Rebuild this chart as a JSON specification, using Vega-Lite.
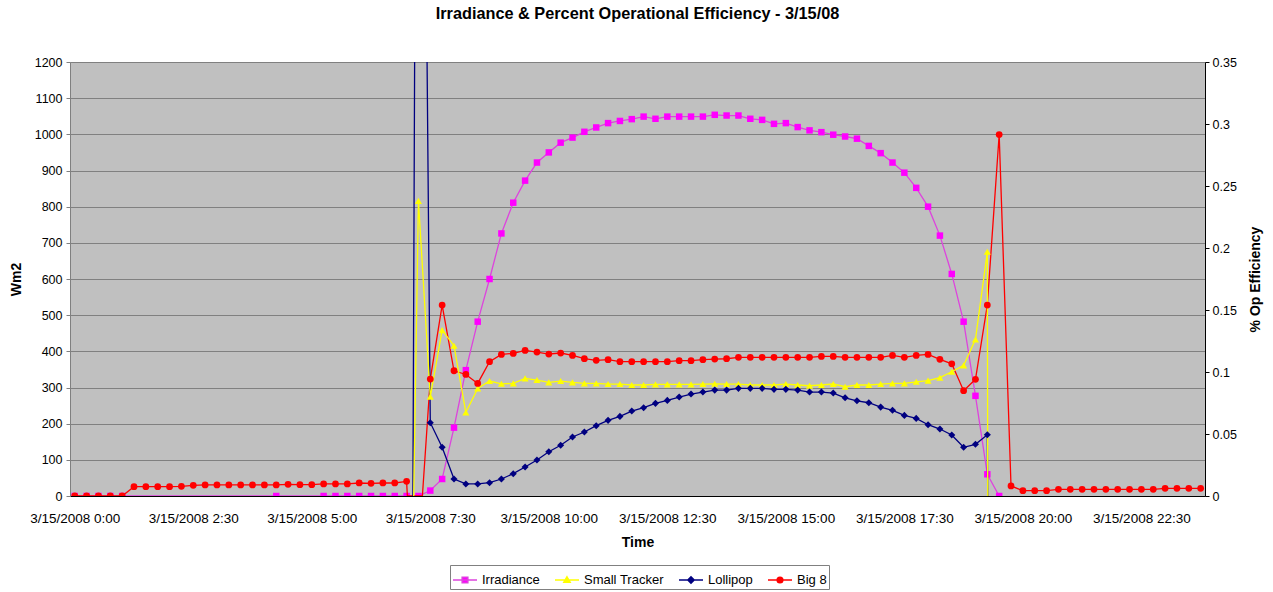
{
"$schema": "https://vega.github.io/schema/vega-lite/v6.json",
"width": 1135, "height": 434,
"autosize": "none",
"padding": {"left": 70, "top": 62, "right": 68, "bottom": 96},
"background": "white",
"title": {"text": "Irradiance & Percent Operational Efficiency - 3/15/08", "font": "Liberation Sans", "fontSize": 16.3, "fontWeight": "bold", "color": "black", "offset": 34, "anchor": "middle"},
"data": {"values": [
{"time":"2008-03-15T00:00","Irradiance":0,"Big 8":0},
{"time":"2008-03-15T00:15","Irradiance":0,"Big 8":0},
{"time":"2008-03-15T00:30","Irradiance":0,"Big 8":0},
{"time":"2008-03-15T00:45","Irradiance":0,"Big 8":0},
{"time":"2008-03-15T01:00","Irradiance":0,"Big 8":0},
{"time":"2008-03-15T01:15","Big 8":0.0075},
{"time":"2008-03-15T01:30","Big 8":0.0075},
{"time":"2008-03-15T01:45","Big 8":0.0075},
{"time":"2008-03-15T02:00","Big 8":0.0075},
{"time":"2008-03-15T02:15","Big 8":0.0078},
{"time":"2008-03-15T02:30","Big 8":0.0086},
{"time":"2008-03-15T02:45","Big 8":0.0089},
{"time":"2008-03-15T03:00","Big 8":0.0089},
{"time":"2008-03-15T03:15","Big 8":0.0089},
{"time":"2008-03-15T03:30","Big 8":0.0089},
{"time":"2008-03-15T03:45","Big 8":0.0089},
{"time":"2008-03-15T04:00","Big 8":0.0089},
{"time":"2008-03-15T04:15","Irradiance":0,"Big 8":0.0089},
{"time":"2008-03-15T04:30","Big 8":0.0094},
{"time":"2008-03-15T04:45","Big 8":0.0091},
{"time":"2008-03-15T05:00","Big 8":0.0091},
{"time":"2008-03-15T05:15","Irradiance":0,"Big 8":0.0097},
{"time":"2008-03-15T05:30","Irradiance":0,"Big 8":0.0097},
{"time":"2008-03-15T05:45","Irradiance":0,"Big 8":0.0097},
{"time":"2008-03-15T06:00","Irradiance":0,"Big 8":0.0105},
{"time":"2008-03-15T06:15","Irradiance":0,"Big 8":0.0102},
{"time":"2008-03-15T06:30","Irradiance":0,"Big 8":0.0105},
{"time":"2008-03-15T06:45","Irradiance":0,"Big 8":0.0105},
{"time":"2008-03-15T07:00","Irradiance":0,"Big 8":0.0118},
{"time":"2008-03-15T07:01","Big 8":0},
{"time":"2008-03-15T07:08","Lollipop":0},
{"time":"2008-03-15T07:09","Small Tracker":0},
{"time":"2008-03-15T07:15","Irradiance":0,"Small Tracker":0.238,"Lollipop":1.13},
{"time":"2008-03-15T07:20","Big 8":0},
{"time":"2008-03-15T07:30","Irradiance":15,"Small Tracker":0.0801,"Lollipop":0.0591,"Big 8":0.0943},
{"time":"2008-03-15T07:45","Irradiance":47,"Small Tracker":0.1338,"Lollipop":0.0393,"Big 8":0.154},
{"time":"2008-03-15T08:00","Irradiance":189,"Small Tracker":0.1212,"Lollipop":0.0137,"Big 8":0.101},
{"time":"2008-03-15T08:15","Irradiance":348,"Small Tracker":0.0674,"Lollipop":0.0097,"Big 8":0.098},
{"time":"2008-03-15T08:30","Irradiance":482,"Small Tracker":0.0868,"Lollipop":0.0097,"Big 8":0.0908},
{"time":"2008-03-15T08:45","Irradiance":600,"Small Tracker":0.0927,"Lollipop":0.0107,"Big 8":0.1083},
{"time":"2008-03-15T09:00","Irradiance":726,"Small Tracker":0.0905,"Lollipop":0.0137,"Big 8":0.1142},
{"time":"2008-03-15T09:15","Irradiance":811,"Small Tracker":0.0908,"Lollipop":0.018,"Big 8":0.115},
{"time":"2008-03-15T09:30","Irradiance":872,"Small Tracker":0.0949,"Lollipop":0.0234,"Big 8":0.1174},
{"time":"2008-03-15T09:45","Irradiance":922,"Small Tracker":0.0935,"Lollipop":0.029,"Big 8":0.1161},
{"time":"2008-03-15T10:00","Irradiance":950,"Small Tracker":0.0916,"Lollipop":0.0357,"Big 8":0.1145},
{"time":"2008-03-15T10:15","Irradiance":977,"Small Tracker":0.0927,"Lollipop":0.0409,"Big 8":0.1153},
{"time":"2008-03-15T10:30","Irradiance":991,"Small Tracker":0.0916,"Lollipop":0.0476,"Big 8":0.1134},
{"time":"2008-03-15T10:45","Irradiance":1007,"Small Tracker":0.0908,"Lollipop":0.0516,"Big 8":0.1107},
{"time":"2008-03-15T11:00","Irradiance":1019,"Small Tracker":0.0908,"Lollipop":0.0567,"Big 8":0.1094},
{"time":"2008-03-15T11:15","Irradiance":1031,"Small Tracker":0.0903,"Lollipop":0.061,"Big 8":0.1099},
{"time":"2008-03-15T11:30","Irradiance":1037,"Small Tracker":0.0903,"Lollipop":0.0642,"Big 8":0.1083},
{"time":"2008-03-15T11:45","Irradiance":1042,"Small Tracker":0.0895,"Lollipop":0.0685,"Big 8":0.1083},
{"time":"2008-03-15T12:00","Irradiance":1049,"Small Tracker":0.0895,"Lollipop":0.0712,"Big 8":0.1083},
{"time":"2008-03-15T12:15","Irradiance":1043,"Small Tracker":0.09,"Lollipop":0.0747,"Big 8":0.1083},
{"time":"2008-03-15T12:30","Irradiance":1049,"Small Tracker":0.09,"Lollipop":0.0771,"Big 8":0.1083},
{"time":"2008-03-15T12:45","Irradiance":1049,"Small Tracker":0.09,"Lollipop":0.0798,"Big 8":0.1091},
{"time":"2008-03-15T13:00","Irradiance":1049,"Small Tracker":0.09,"Lollipop":0.0822,"Big 8":0.1091},
{"time":"2008-03-15T13:15","Irradiance":1049,"Small Tracker":0.0903,"Lollipop":0.0838,"Big 8":0.1099},
{"time":"2008-03-15T13:30","Irradiance":1054,"Small Tracker":0.0905,"Lollipop":0.0854,"Big 8":0.1104},
{"time":"2008-03-15T13:45","Irradiance":1052,"Small Tracker":0.0903,"Lollipop":0.0854,"Big 8":0.1107},
{"time":"2008-03-15T14:00","Irradiance":1052,"Small Tracker":0.0903,"Lollipop":0.0868,"Big 8":0.1118},
{"time":"2008-03-15T14:15","Irradiance":1043,"Small Tracker":0.0895,"Lollipop":0.0868,"Big 8":0.1118},
{"time":"2008-03-15T14:30","Irradiance":1040,"Small Tracker":0.0895,"Lollipop":0.0868,"Big 8":0.1118},
{"time":"2008-03-15T14:45","Irradiance":1029,"Small Tracker":0.0895,"Lollipop":0.086,"Big 8":0.1118},
{"time":"2008-03-15T15:00","Irradiance":1031,"Small Tracker":0.0903,"Lollipop":0.086,"Big 8":0.1118},
{"time":"2008-03-15T15:15","Irradiance":1020,"Small Tracker":0.0895,"Lollipop":0.0854,"Big 8":0.1118},
{"time":"2008-03-15T15:30","Irradiance":1011,"Small Tracker":0.0889,"Lollipop":0.0838,"Big 8":0.1118},
{"time":"2008-03-15T15:45","Irradiance":1006,"Small Tracker":0.0895,"Lollipop":0.0838,"Big 8":0.1126},
{"time":"2008-03-15T16:00","Irradiance":999,"Small Tracker":0.0903,"Lollipop":0.083,"Big 8":0.1126},
{"time":"2008-03-15T16:15","Irradiance":994,"Small Tracker":0.0881,"Lollipop":0.0792,"Big 8":0.1118},
{"time":"2008-03-15T16:30","Irradiance":988,"Small Tracker":0.0895,"Lollipop":0.0768,"Big 8":0.1118},
{"time":"2008-03-15T16:45","Irradiance":968,"Small Tracker":0.0895,"Lollipop":0.0752,"Big 8":0.1118},
{"time":"2008-03-15T17:00","Irradiance":948,"Small Tracker":0.0903,"Lollipop":0.0717,"Big 8":0.1118},
{"time":"2008-03-15T17:15","Irradiance":922,"Small Tracker":0.0908,"Lollipop":0.0691,"Big 8":0.1134},
{"time":"2008-03-15T17:30","Irradiance":894,"Small Tracker":0.0908,"Lollipop":0.065,"Big 8":0.1118},
{"time":"2008-03-15T17:45","Irradiance":852,"Small Tracker":0.0921,"Lollipop":0.0626,"Big 8":0.1134},
{"time":"2008-03-15T18:00","Irradiance":800,"Small Tracker":0.093,"Lollipop":0.0575,"Big 8":0.1142},
{"time":"2008-03-15T18:15","Irradiance":720,"Small Tracker":0.0954,"Lollipop":0.054,"Big 8":0.1102},
{"time":"2008-03-15T18:30","Irradiance":614,"Small Tracker":0.1002,"Lollipop":0.0492,"Big 8":0.1066},
{"time":"2008-03-15T18:45","Irradiance":482,"Small Tracker":0.1053,"Lollipop":0.0393,"Big 8":0.0849},
{"time":"2008-03-15T19:00","Irradiance":277,"Small Tracker":0.1263,"Lollipop":0.0417,"Big 8":0.0941},
{"time":"2008-03-15T19:15","Irradiance":60,"Small Tracker":0.197,"Lollipop":0.0494,"Big 8":0.154},
{"time":"2008-03-15T19:15:30","Small Tracker":0,"Lollipop":0},
{"time":"2008-03-15T19:30","Irradiance":0,"Big 8":0.2915},
{"time":"2008-03-15T19:45","Big 8":0.0081},
{"time":"2008-03-15T20:00","Big 8":0.0043},
{"time":"2008-03-15T20:15","Big 8":0.0043},
{"time":"2008-03-15T20:30","Big 8":0.0043},
{"time":"2008-03-15T20:45","Big 8":0.0054},
{"time":"2008-03-15T21:00","Big 8":0.0054},
{"time":"2008-03-15T21:15","Big 8":0.0054},
{"time":"2008-03-15T21:30","Big 8":0.0054},
{"time":"2008-03-15T21:45","Big 8":0.0054},
{"time":"2008-03-15T22:00","Big 8":0.0054},
{"time":"2008-03-15T22:15","Big 8":0.0054},
{"time":"2008-03-15T22:30","Big 8":0.0054},
{"time":"2008-03-15T22:45","Big 8":0.0054},
{"time":"2008-03-15T23:00","Big 8":0.0062},
{"time":"2008-03-15T23:15","Big 8":0.0062},
{"time":"2008-03-15T23:30","Big 8":0.0062},
{"time":"2008-03-15T23:45","Big 8":0.0062}
]},
"encoding": {"x": {"field": "time", "type": "temporal",
  "scale": {"domain": ["2008-03-14T23:54:00", "2008-03-15T23:50:30"]},
  "axis": {"orient": "bottom", "values": ["2008-03-15T00:00:00", "2008-03-15T02:30:00", "2008-03-15T05:00:00", "2008-03-15T07:30:00", "2008-03-15T10:00:00", "2008-03-15T12:30:00", "2008-03-15T15:00:00", "2008-03-15T17:30:00", "2008-03-15T20:00:00", "2008-03-15T22:30:00"],
    "labelExpr": "'3/15/2008 ' + timeFormat(datum.value, '%-H:%M')", "labelOverlap": false, "labelFlush": false,
    "ticks": false, "domain": true, "domainColor": "black", "grid": false, "labelPadding": 15, "labelFontSize": 13.5, "labelColor": "black",
    "title": "Time", "titleFontSize": 14, "titleFontWeight": "bold", "titleColor": "black", "titlePadding": 11}}},
"layer": [
{
"transform": [{"filter": "isValid(datum['Irradiance'])"}],
"encoding": {"y": {"field": "Irradiance", "type": "quantitative", "scale": {"domain": [0, 1200]},
     "axis": {"orient": "left", "title": "Wm2", "values": [0,100,200,300,400,500,600,700,800,900,1000,1100,1200], "format": "d", "grid": true, "gridColor": "#808080", "gridWidth": 1, "domainColor": "#808080", "tickColor": "#808080", "tickSize": 4, "labelPadding": 4, "labelFontSize": 12.5, "labelColor": "black", "titleFontSize": 14, "titleFontWeight": "bold", "titleColor": "black", "titlePadding": 11}}},
"layer": [
  {"mark": {"type": "line", "color": "#DD44DD", "strokeWidth": 1.3, "clip": true}},
  {"mark": {"type": "point", "shape": "square", "filled": true, "color": "#FF00FF", "size": 42, "opacity": 1, "clip": true}},
  {"transform": [{"filter": "false"}, {"fold": ["Irradiance", "Small Tracker", "Lollipop", "Big 8"], "as": ["series", "val"]}],
   "mark": {"type": "point", "filled": true, "size": 576},
   "encoding": {
     "shape": {"field": "series", "type": "nominal", "title": null,
       "scale": {"domain": ["Irradiance", "Small Tracker", "Lollipop", "Big 8"],
         "range": ["M-1,0H1M-0.24,-0.24H0.24V0.24H-0.24Z", "M-1,0H1M0,-0.27L0.27,0.2H-0.27Z", "M-1,0H1M0,-0.27L0.27,0L0,0.27L-0.27,0Z", "M-1,0H1M-0.24,0A0.24,0.24,0,1,0,0.24,0A0.24,0.24,0,1,0,-0.24,0Z"]},
       "legend": {"orient": "none", "legendX": 380, "legendY": 503, "direction": "horizontal", "columns": 4, "title": null, "strokeColor": "#808080", "fillColor": "white", "padding": 2, "labelFontSize": 13, "labelColor": "black", "labelFont": "Liberation Sans", "symbolSize": 576, "symbolStrokeWidth": 1.4, "symbolOpacity": 1, "columnPadding": 12, "labelOffset": 4}},
     "fill": {"field": "series", "type": "nominal", "title": null, "scale": {"domain": ["Irradiance", "Small Tracker", "Lollipop", "Big 8"], "range": ["#FF00FF", "#FFFF00", "#000080", "#FF0000"]}},
     "stroke": {"field": "series", "type": "nominal", "title": null, "scale": {"domain": ["Irradiance", "Small Tracker", "Lollipop", "Big 8"], "range": ["#DD44DD", "#FFFF00", "#000080", "#FF0000"]}}
   }}
]
},
{
"transform": [{"fold": ["Small Tracker", "Lollipop", "Big 8"], "as": ["series", "v"]}, {"filter": "isValid(datum.v)"}],
"encoding": {"y": {"field": "v", "type": "quantitative", "scale": {"domain": [0, 0.35]},
       "axis": {"orient": "right", "title": "% Op Efficiency", "values": [0, 0.05, 0.1, 0.15, 0.2, 0.25, 0.3, 0.35], "format": ".2~f", "grid": false, "domainColor": "black", "tickColor": "black", "tickSize": 4, "labelPadding": 3, "labelFontSize": 12.5, "labelColor": "black", "titleFontSize": 14, "titleFontWeight": "bold", "titleColor": "black", "titleAngle": 270, "titlePadding": 26}}},
"layer": [
  {"mark": {"type": "line", "strokeWidth": 1.3, "clip": true},
   "encoding": {
     "color": {"field": "series", "type": "nominal", "scale": {"domain": ["Small Tracker", "Lollipop", "Big 8"], "range": ["#FFFF00", "#000080", "#FF0000"]}, "legend": null}}},
  {"transform": [{"filter": "datum.series == 'Small Tracker' && minutes(datum.time) % 15 == 0 && seconds(datum.time) == 0"}],
   "mark": {"type": "point", "shape": "triangle-up", "filled": true, "color": "#FFFF00", "opacity": 1, "size": 50, "clip": true}},
  {"transform": [{"filter": "datum.series == 'Lollipop' && minutes(datum.time) % 15 == 0 && seconds(datum.time) == 0"}],
   "mark": {"type": "point", "shape": "diamond", "filled": true, "color": "#000080", "opacity": 1, "size": 50, "clip": true}},
  {"transform": [{"filter": "datum.series == 'Big 8' && minutes(datum.time) % 15 == 0 && seconds(datum.time) == 0"}],
   "mark": {"type": "point", "shape": "circle", "filled": true, "color": "#FF0000", "opacity": 1, "size": 46, "clip": true}}
]
}
],
"resolve": {"scale": {"y": "independent"}},
"config": {"font": "Liberation Sans", "view": {"fill": "#C0C0C0", "stroke": null}, "axis": {"labelFont": "Liberation Sans", "titleFont": "Liberation Sans"}}
}
